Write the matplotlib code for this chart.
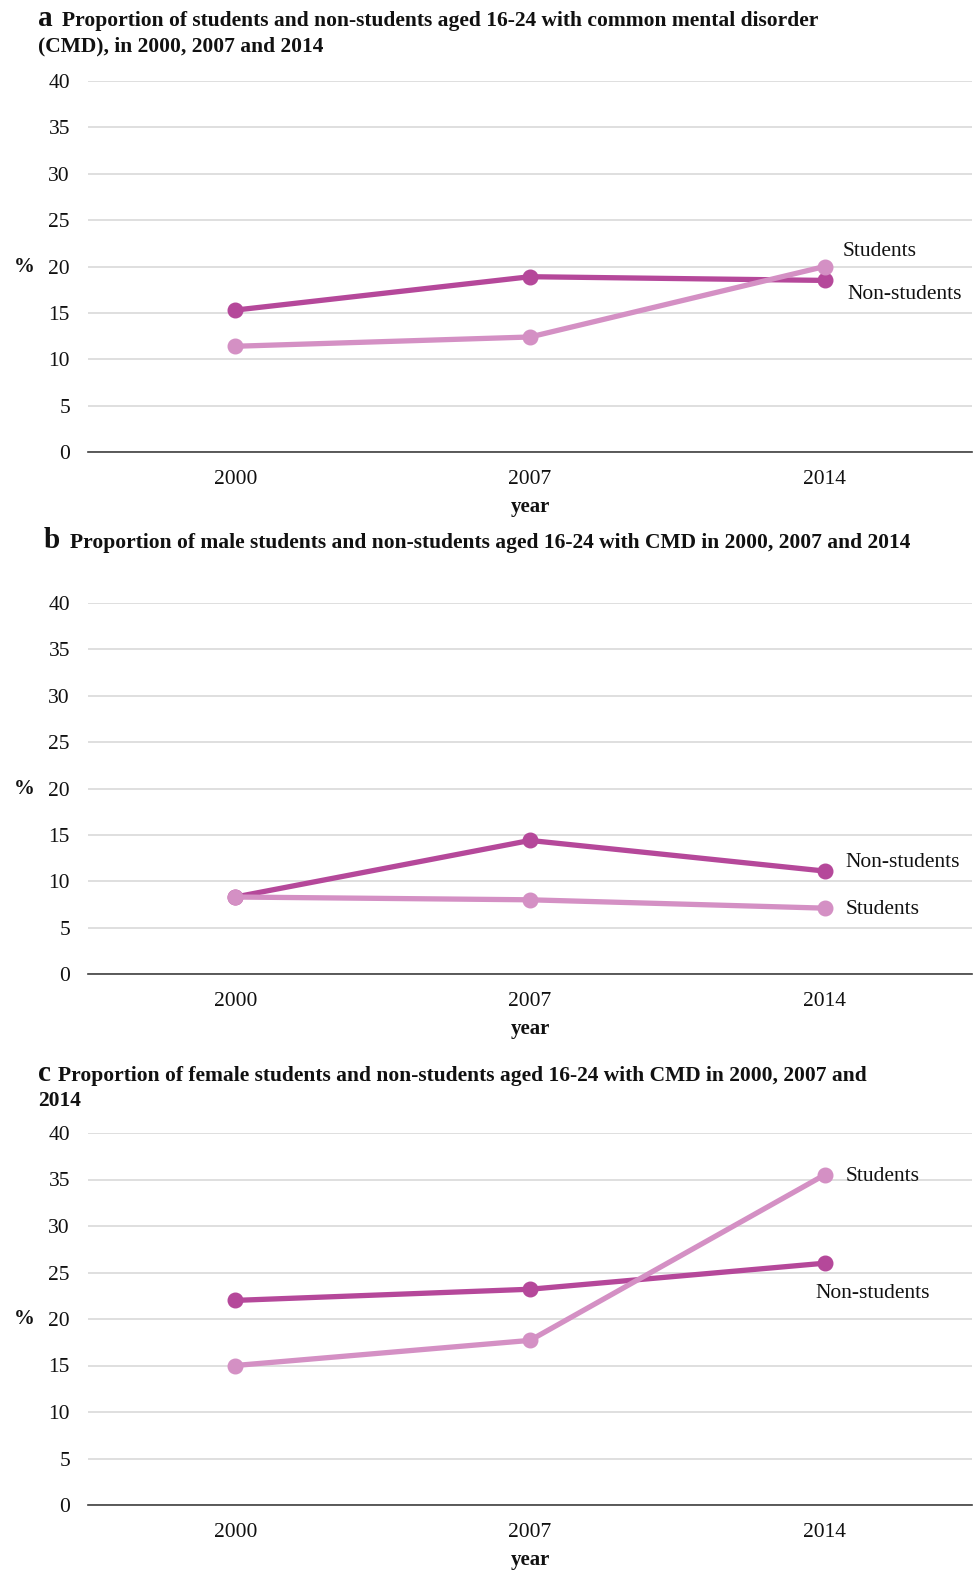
import matplotlib
matplotlib.use("Agg")
import matplotlib.pyplot as plt

plt.rcParams['font.family'] = ['Liberation Serif', 'DejaVu Serif']

years = ["2000", "2007", "2014"]
yticks = [0, 5, 10, 15, 20, 25, 30, 35, 40]

a_non = [15.3, 18.9, 18.5]
a_stu = [11.4, 12.4, 20.0]
b_non = [8.3, 14.4, 11.1]
b_stu = [8.3, 8.0, 7.1]
c_non = [22.0, 23.2, 26.0]
c_stu = [15.0, 17.7, 35.5]

letters = ["a", "b", "c"]
titles_l1 = [
    "Proportion of students and non-students aged 16-24 with common mental disorder",
    "Proportion of male students and non-students aged 16-24 with CMD in 2000, 2007 and 2014",
    "Proportion of female students and non-students aged 16-24 with CMD in 2000, 2007 and",
]
titles_l2 = ["(CMD), in 2000, 2007 and 2014", None, "2014"]

NON_COL = "#B5489A"
STU_COL = "#D490C4"

W, H = 976, 1572
fig = plt.figure(figsize=(W / 100, H / 100), dpi=100)


def fx(x):
    return x / W


def fy(y):
    return 1 - y / H


# axes pixel geometry: (top, bottom)
panels = [(81, 452), (603, 974), (1133, 1505)]
left, right = 88, 972

# label offsets (points) relative to the last data point: (dx, dy)
label_offsets = [
    {"Students": (13, 11), "Non-students": (16.5, -10)},
    {"Students": (15, -1), "Non-students": (15, 6.5)},
    {"Students": (15, -1), "Non-students": (-6.5, -21.5)},
]
# title pixel positions: letter x, text x, line1 y, line2 y
title_pos = [(38, 62, 19, 44), (44, 70, 541, None), (38, 58, 1074, 1099)]

data = [(a_non, a_stu), (b_non, b_stu), (c_non, c_stu)]

for i, ((top, bot), (non, stu)) in enumerate(zip(panels, data)):
    ax = fig.add_axes([fx(left), fy(bot), (right - left) / W, (bot - top) / H])
    x = list(range(len(years)))
    ax.plot(x, non, color=NON_COL, lw=3.8, marker="o", ms=10.5, zorder=3,
            solid_capstyle="round")
    ax.plot(x, stu, color=STU_COL, lw=3.8, marker="o", ms=10.5, zorder=3,
            solid_capstyle="round")
    ax.set_xlim(-0.5, 2.5)
    ax.set_ylim(0, 40)
    ax.set_yticks(yticks)
    ax.set_xticks(x)
    ax.set_xticklabels(years)
    ax.tick_params(axis="both", length=0, labelsize=15.5, colors="#111111")
    ax.tick_params(axis="y", pad=13)
    ax.tick_params(axis="x", pad=13)
    ax.grid(axis="y", color="#d9d9d9", lw=1.2, zorder=0)
    ax.set_axisbelow(True)
    for s in ["top", "right", "left"]:
        ax.spines[s].set_visible(False)
    ax.spines["bottom"].set_color("#404040")
    ax.spines["bottom"].set_linewidth(1.2)
    ax.spines["bottom"].set_zorder(1)

    offs = label_offsets[i]
    ax.annotate("Students", xy=(2, stu[-1]), xytext=offs["Students"],
                textcoords="offset points", fontsize=15.5, va="center", ha="left",
                color="#111111")
    ax.annotate("Non-students", xy=(2, non[-1]), xytext=offs["Non-students"],
                textcoords="offset points", fontsize=15.5, va="center", ha="left",
                color="#111111")

    # % label at level 20
    y20 = bot - (bot - top) * 20 / 40
    fig.text(fx(14), fy(y20), "%", fontsize=15, fontweight="bold", va="center",
             ha="left", color="#111111")
    # year label
    fig.text(fx((left + right) / 2), fy(bot + 55), "year", fontsize=15,
             fontweight="bold", va="center", ha="center", color="#111111")

    lx, tx, y1, y2 = title_pos[i]
    fig.text(fx(lx), fy(y1 + 7), letters[i], fontsize=21, fontweight="bold",
             va="baseline", ha="left", color="#111111")
    fig.text(fx(tx), fy(y1 + 7), titles_l1[i], fontsize=15.5, fontweight="bold",
             va="baseline", ha="left", color="#111111")
    if titles_l2[i]:
        fig.text(fx(lx), fy(y2 + 7), titles_l2[i], fontsize=15.5,
                 fontweight="bold", va="baseline", ha="left", color="#111111")

fig.savefig("out.png", dpi=100)
